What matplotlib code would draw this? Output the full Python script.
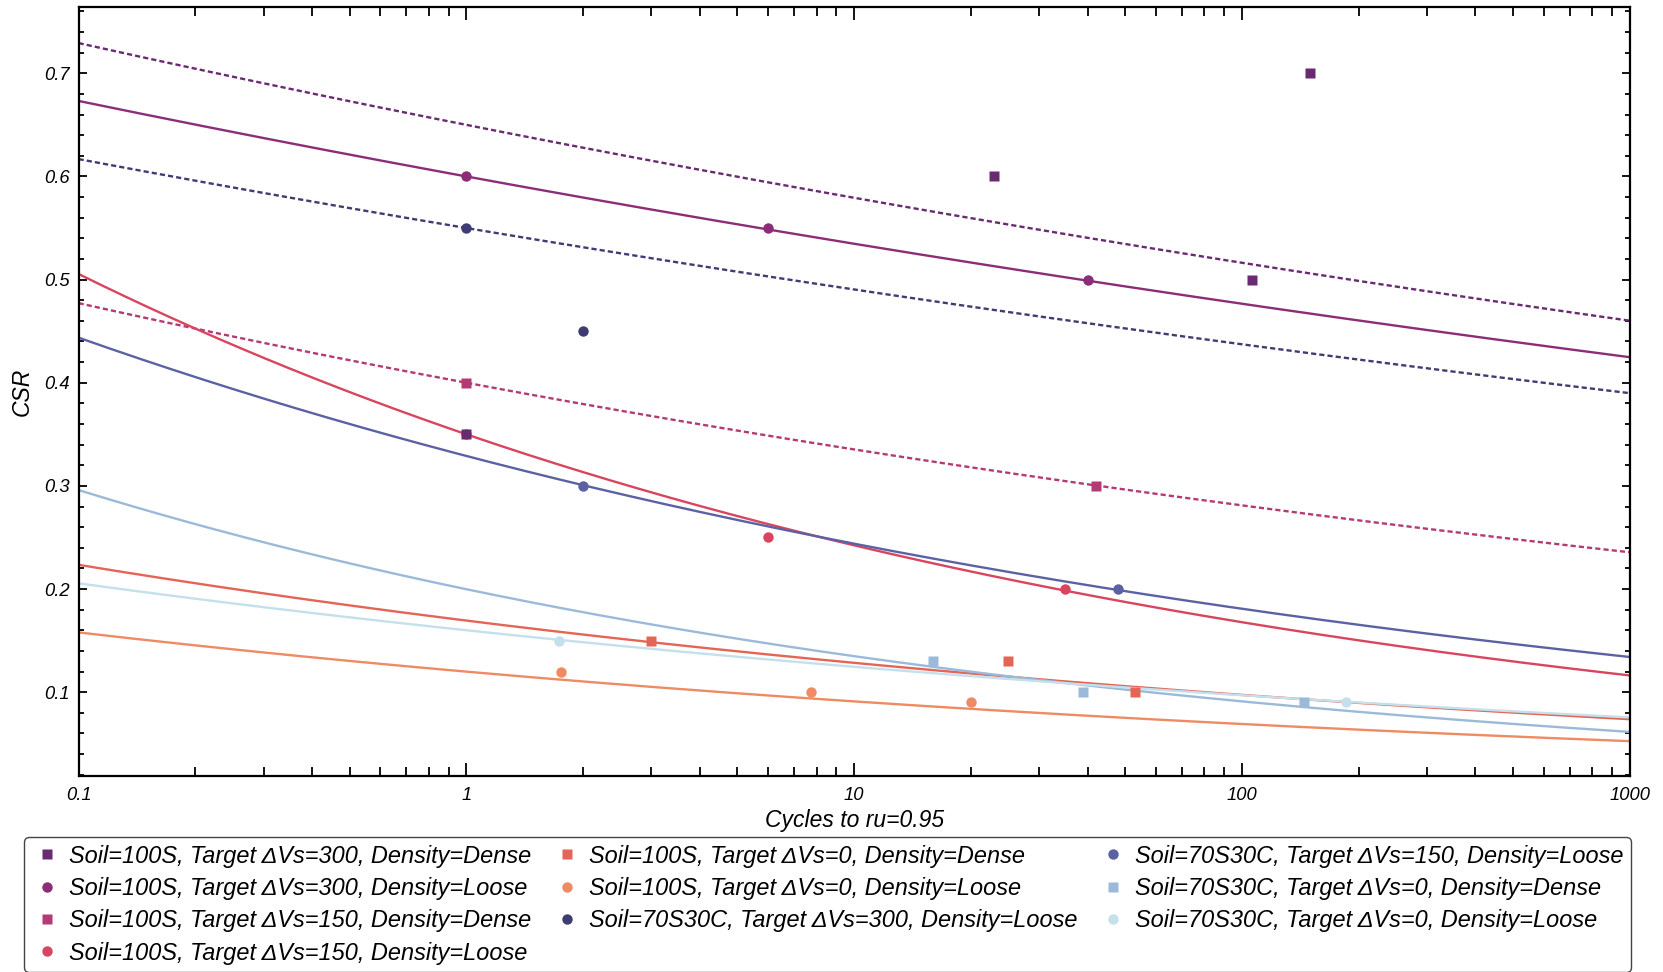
import numpy as np
import matplotlib
matplotlib.use("Agg")
import matplotlib.pyplot as plt
from matplotlib.ticker import LogLocator, MultipleLocator, FuncFormatter, NullFormatter
from matplotlib.lines import Line2D

plt.rcParams['font.family'] = ['Liberation Sans', 'DejaVu Sans']
plt.rcParams['font.style'] = 'italic'

# ---- data ----
labels = [
    "Soil=100S, Target ΔVs=300, Density=Dense",
    "Soil=100S, Target ΔVs=300, Density=Loose",
    "Soil=100S, Target ΔVs=150, Density=Dense",
    "Soil=100S, Target ΔVs=150, Density=Loose",
    "Soil=100S, Target ΔVs=0, Density=Dense",
    "Soil=100S, Target ΔVs=0, Density=Loose",
    "Soil=70S30C, Target ΔVs=300, Density=Loose",
    "Soil=70S30C, Target ΔVs=150, Density=Loose",
    "Soil=70S30C, Target ΔVs=0, Density=Dense",
    "Soil=70S30C, Target ΔVs=0, Density=Loose",
]
colors = ["#6a2a72", "#8c2d78", "#b33a72", "#d8455f", "#e46555", "#ee8b63",
          "#3f3b74", "#5b62a4", "#9bbad9", "#c4e0ec"]
markers = ["s", "o", "s", "o", "s", "o", "o", "o", "s", "o"]

cycles = [
    [1, 23, 106, 150],
    [1, 6, 40],
    [1, 42],
    [1, 6, 35],
    [3, 25, 53],
    [1.75, 7.75, 20],
    [1, 2],
    [2, 48],
    [16, 39, 145],
    [1.73, 186],
]
csr = [
    [0.35, 0.6, 0.5, 0.7],
    [0.6, 0.55, 0.5],
    [0.4, 0.3],
    [0.35, 0.25, 0.2],
    [0.15, 0.13, 0.1],
    [0.12, 0.1, 0.09],
    [0.55, 0.45],
    [0.3, 0.2],
    [0.13, 0.1, 0.09],
    [0.15, 0.09],
]
# power-law trend lines CSR = a * N^b
fit_a = [0.650, 0.600, 0.400, 0.350, 0.1694, 0.1199, 0.550, 0.329, 0.1998, 0.160]
fit_b = [-0.0500, -0.0500, -0.0766, -0.1596, -0.1203, -0.1196, -0.0498, -0.1299, -0.1706, -0.1087]
fit_dotted = [True, False, True, False, False, False, True, False, False, False]

# ---- figure ----
W, H = 1663, 972
fig = plt.figure(figsize=(W / 100, H / 100), dpi=100)
ax = fig.add_axes([78.6 / W, 1 - 775.7 / H, (1629.6 - 78.6) / W, (775.7 - 7.3) / H])

xs = np.logspace(-1, 3, 400)
for i in range(len(labels)):
    ls = (0, (2.2, 1.3)) if fit_dotted[i] else '-'
    ax.plot(xs, fit_a[i] * xs ** fit_b[i], color=colors[i], lw=1.7, ls=ls, zorder=2)

# markers: draw circles first, squares on top
order = [i for i in range(len(labels)) if markers[i] == 'o'] + \
        [i for i in range(len(labels)) if markers[i] == 's']
for i in order:
    ax.plot(cycles[i], csr[i], ls='none', marker=markers[i], ms=7.5,
            color=colors[i], mec='none', zorder=3)

ax.set_xscale('log')
ax.set_xlim(0.1, 1000)
ax.set_ylim(0.019, 0.764)
ax.xaxis.set_major_locator(LogLocator(base=10, numticks=10))
ax.xaxis.set_minor_locator(LogLocator(base=10, subs=np.arange(2, 10), numticks=20))
ax.xaxis.set_major_formatter(FuncFormatter(lambda v, p: f"{v:g}"))
ax.xaxis.set_minor_formatter(NullFormatter())
ax.yaxis.set_major_locator(MultipleLocator(0.1))
ax.yaxis.set_minor_locator(MultipleLocator(0.02))
ax.yaxis.set_major_formatter(FuncFormatter(lambda v, p: f"{v:.1f}"))

ax.tick_params(axis='both', which='both', direction='in', top=True, right=True,
               width=1.3, colors='black', labelsize=13.2)
ax.tick_params(axis='x', which='major', length=9.5, pad=8)
ax.tick_params(axis='x', which='minor', length=6.5)
ax.tick_params(axis='y', which='major', length=6, pad=6)
ax.tick_params(axis='y', which='minor', length=3.8)
for s in ax.spines.values():
    s.set_linewidth(1.6)
    s.set_color('black')

ax.set_xlabel("Cycles to ru=0.95", fontsize=16.5, labelpad=4)
ax.set_ylabel("CSR", fontsize=16.5, labelpad=8)

handles = [Line2D([], [], ls='none', marker=markers[i], ms=7.5, color=colors[i], mec='none')
           for i in range(len(labels))]
leg = fig.legend(handles, labels, loc='upper left', bbox_to_anchor=(24 / W, 1 - 837 / H),
                 bbox_transform=fig.transFigure, ncol=3, fontsize=16.9,
                 borderaxespad=0, borderpad=0.32, labelspacing=0.40,
                 handlelength=1.3, handletextpad=0.30, columnspacing=0.85,
                 frameon=True, fancybox=True, edgecolor='#444444', framealpha=1)
leg.get_frame().set_linewidth(1.0)

fig.savefig("out.png", dpi=100)
